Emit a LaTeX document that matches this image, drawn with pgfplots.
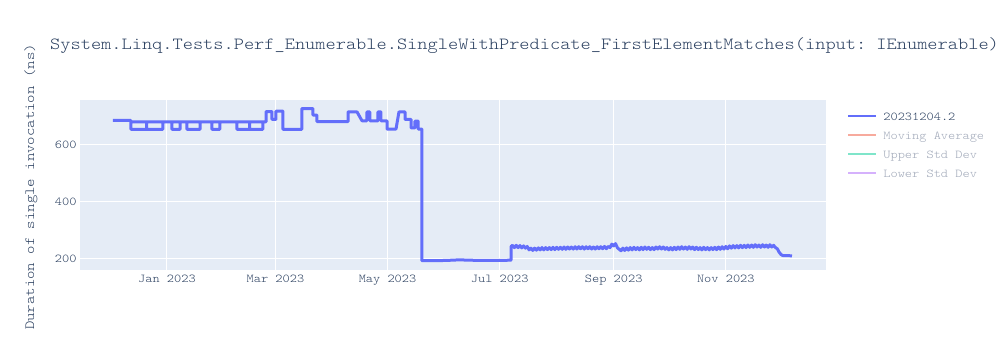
\documentclass[border=0pt]{standalone}
\usepackage{fontspec}
\setmainfont{lmmonolt10-regular.otf}[FakeStretch=1.143]
\usepackage{pgfplots}
\pgfplotsset{compat=1.18}
\definecolor{plotbg}{HTML}{E5ECF6}
\definecolor{txt}{HTML}{2A3F5F}
\definecolor{ser}{HTML}{636EFA}
\definecolor{ma}{HTML}{F7AA9D}
\definecolor{up}{HTML}{7FE5CA}
\definecolor{lo}{HTML}{D5B1FC}
\definecolor{faded}{HTML}{A0A8B8}
\frenchspacing
\begin{document}
\begin{tikzpicture}
\useasboundingbox (0bp,0bp) rectangle (1000bp,350bp);
\begin{axis}[
  at={(80bp,80bp)}, anchor=south west,
  width=746bp, height=170bp, scale only axis,
  xmin=-47.3, xmax=358.5, ymin=161.4, ymax=757.9,
  axis background/.style={fill=plotbg},
  axis line style={draw=none},
  major tick style={draw=none},
  grid=major, major grid style={white, line width=1bp},
  xtick={0,59,120,181,243,304},
  xticklabels={Jan 2023,Mar 2023,May 2023,Jul 2023,Sep 2023,Nov 2023},
  ytick={200,400,600},
  tick label style={font=\fontsize{12bp}{14bp}\selectfont, text=txt},
  xticklabel style={text height=8bp, text depth=2bp, yshift=-1bp},
  /pgf/number format/assume math mode=true,
  legend style={at={(1.028,0.938)}, anchor=north west, draw=none, fill=none,
    inner sep=0pt, outer sep=0pt, font=\fontsize{12bp}{14bp}\selectfont, text=txt,
    nodes={inner sep=0pt, text height=10bp, text depth=9bp}, column sep=6bp},
  legend cell align=left,
  legend image code/.code={\path (0bp,0bp) -- (0bp,0bp); \draw[#1, line width=2bp] (0bp,4bp) -- (28bp,4bp);},
]
\addplot[ser, line width=3bp, line join=round] coordinates {
(-29.4,686) (-19.6,686) (-19.6,681) (-2.2,681) (-2.2,655) (-19.6,655) (-19.6,681) (-11,681) (-11,655) (-11,681)
(-2.2,681) (2.7,681) (7.1,681) (7.1,655) (2.7,655) (2.7,681) (7.1,681)
(10.9,681) (18.0,681) (18.0,655) (10.9,655) (10.9,681) (18,681)
(24.5,681) (28.8,681) (28.8,655) (24.5,655) (24.5,681) (28.8,681)
(38.1,681) (52.2,681) (52.2,655) (38.1,655) (38.1,681) (45,681) (45,655) (45,681) (52.2,681)
(53.9,681) (53.9,717) (57.1,717) (57.1,690) (59.3,690) (59.3,719) (63.1,719) (63.1,655)
(73.4,655) (73.4,728) (79.4,728) (79.4,705) (81.6,705) (81.6,682) (98.5,682) (98.5,716)
(103.4,716) (106.1,685) (108.8,685) (108.8,716) (110.4,716) (110.4,685) (114.8,685) (114.8,716)
(116.4,716) (116.4,685) (119.7,685) (119.7,656) (124.6,656) (126.2,716) (129.5,716) (129.5,690)
(132.8,690) (132.8,660) (134.9,660) (134.9,684) (136.6,684) (136.6,656) (138.7,656) (138.7,194)
(145,194) (152,195) (159,197) (164,196) (170,195) (176,195) (182,195) (187.2,196)
(187.2,244) (188,248) (189,240) (190,248) (191,240) (192,247) (193,239) (194,246) (195,238) (196,244)
(197,232) (198,238) (199,230) (200,238) (201,231) (202,239) (203,232) (204,240) (205,232) (206,240)
(207,233) (208,240) (209,233) (210,241) (211,233) (212,241) (213,234) (214,241) (215,234) (216,242)
(217,234) (218,242) (219,235) (220,242) (221,235) (222,243) (223,235) (224,243) (225,236) (226,243)
(227,235) (228,243) (229,236) (230,243) (231,235) (232,242) (233,235) (234,243) (235,236) (236,243)
(237,236) (238,244) (239,236) (240,244) (241,240) (242,252) (243,246) (244,254) (245,240) (246,234)
(247,229) (248,238) (249,230) (250,239) (251,231) (252,240) (253,232) (254,241) (255,233) (256,240)
(257,232) (258,241) (259,233) (260,242) (261,234) (262,241) (263,233) (264,240) (265,233) (266,242)
(267,235) (268,243) (269,235) (270,242) (271,234) (272,240) (273,232) (274,240) (275,232) (276,241)
(277,233) (278,242) (279,234) (280,243) (281,235) (282,242) (283,234) (284,243) (285,235) (286,242)
(287,233) (288,241) (289,233) (290,240) (291,232) (292,241) (293,233) (294,240) (295,232) (296,240)
(297,233) (298,241) (299,233) (300,242) (301,234) (302,243) (303,235) (304,244) (305,236) (306,246)
(307,238) (308,247) (309,239) (310,247) (311,239) (312,248) (313,240) (314,248) (315,240) (316,249)
(317,241) (318,249) (319,241) (320,250) (321,242) (322,249) (323,241) (324,250) (325,242) (326,249)
(327,241) (328,250) (329,242) (330,248) (331,240) (332,236) (333,224) (334,216) (335,212) (337,212) (340,211)
};
\addlegendentry{20231204.2}
\addlegendimage{ma}
\addlegendentry{\textcolor{faded}{Moving Average}}
\addlegendimage{up}
\addlegendentry{\textcolor{faded}{Upper Std Dev}}
\addlegendimage{lo}
\addlegendentry{\textcolor{faded}{Lower Std Dev}}
\end{axis}
\node[anchor=west, inner sep=0pt, font=\fontsize{17bp}{20bp}\selectfont, text=txt] at (50bp,304bp) {System.Linq.Tests.Perf\_Enumerable.SingleWithPredicate\_FirstElementMatches(input: IEnumerable)};
\node[rotate=90, inner sep=0pt, font=\fontsize{14bp}{16bp}\selectfont, text=txt] at (31bp,163bp) {Duration of single invocation (ns)};
\end{tikzpicture}
\end{document}
